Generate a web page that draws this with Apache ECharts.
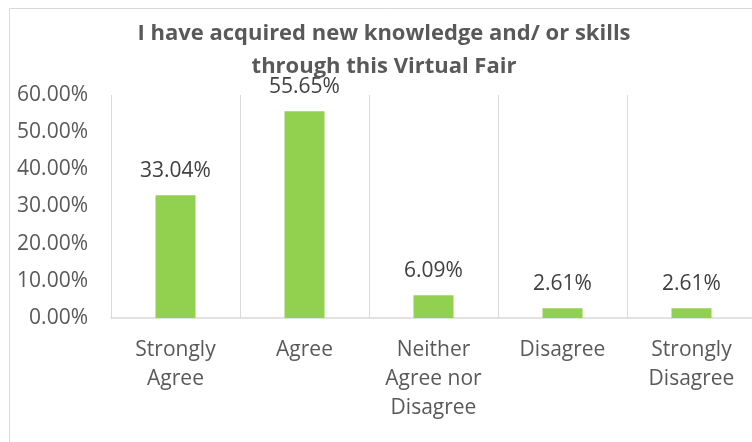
<!DOCTYPE html>
<html>
<head>
    <meta charset="UTF-8">
    <title>Virtual Fair</title>
    <script src="https://cdn.jsdelivr.net/npm/echarts@6/dist/echarts.min.js"></script>
    <style>
        html, body { margin: 0; padding: 0; overflow: hidden; background: #fff; }
    </style>
</head>
<body>

<!-- a bit wider than the window: the right edge of the original is cut off -->
<div id="main" style="width: 760px;height:442px"></div>

<script type="text/javascript">
    var categories = ['Strongly\nAgree', 'Agree', 'Neither\nAgree nor\nDisagree', 'Disagree', 'Strongly\nDisagree'];
    var values = [33.04, 55.65, 6.09, 2.61, 2.61];
    var yTicks = [0, 10, 20, 30, 40, 50, 60];

    var myChart = echarts.init(document.getElementById('main'));
    var font = '"Open Sans", sans-serif';
    var option = {
        animation: false,
        title: {
            text: 'I have acquired new knowledge and/ or skills\nthrough this Virtual Fair',
            left: 379,
            textAlign: 'center',
            top: 12,
            textStyle: {
                fontFamily: font,
                fontSize: 22,
                fontWeight: 'bold',
                color: '#595959',
                lineHeight: 33
            }
        },
        // border of the chart area
        graphic: [{
            type: 'rect',
            shape: { x: 9.5, y: 8.5, width: 780, height: 460 },
            style: { fill: 'none', stroke: '#d9d9d9', lineWidth: 1 },
            silent: true
        }],
        grid: { left: 111, right: 4, top: 95, bottom: 124 },
        xAxis: {
            type: 'category',
            data: categories,
            axisLine: { lineStyle: { color: '#d9d9d9', width: 1.5 } },
            axisTick: { show: false },
            splitLine: { show: true, interval: 0, lineStyle: { color: '#d9d9d9', width: 1 } },
            axisLabel: {
                interval: 0,
                margin: 18,
                fontFamily: font,
                fontSize: 21,
                lineHeight: 29,
                color: '#595959'
            }
        },
        yAxis: {
            type: 'value',
            min: yTicks[0],
            max: yTicks[yTicks.length - 1],
            interval: 10,
            axisLine: { show: false },
            axisTick: { show: false },
            splitLine: { show: false },
            axisLabel: {
                margin: 23,
                fontFamily: font,
                fontSize: 21,
                color: '#595959',
                formatter: function (v) { return v.toFixed(2) + '%'; }
            }
        },
        series: [{
            type: 'bar',
            data: values,
            barWidth: 40,
            itemStyle: { color: '#92D050' },
            label: {
                show: true,
                position: 'top',
                distance: 14,
                fontFamily: font,
                fontSize: 21,
                color: '#404040',
                formatter: function (p) { return p.value.toFixed(2) + '%'; }
            }
        }]
    };
    myChart.setOption(option);
</script>
</body>
</html>
